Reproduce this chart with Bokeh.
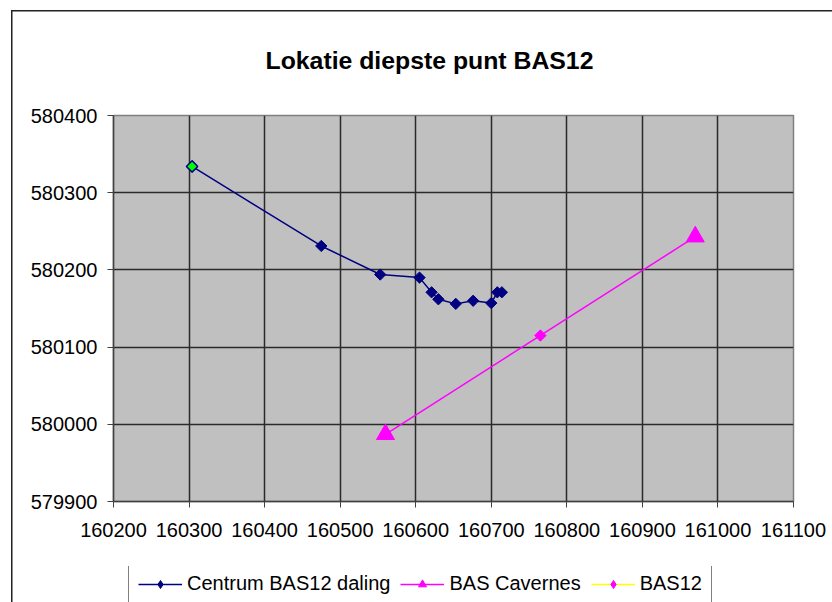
import math
from bokeh.plotting import figure
from bokeh.layouts import column
from bokeh.models import (Legend, LegendItem, SingleIntervalTicker,
                          BasicTickFormatter, Range1d, Title)
from bokeh.embed import file_html
from bokeh.resources import INLINE

# ---- data ----
centrum_x = [160304, 160475, 160553, 160605, 160621, 160630, 160653, 160676, 160700, 160708, 160714]
centrum_y = [580334, 580231, 580194, 580190, 580171, 580162, 580156, 580160, 580157, 580171, 580171]
cavernes_x = [160560, 160970]
cavernes_y = [579987, 580243]
bas12_x = [160765]
bas12_y = [580115]
x_start, x_end, x_step = 160200, 161100, 100
y_start, y_end, y_step = 579900, 580400, 100
title_text = "Lokatie diepste punt BAS12"
series_names = ["Centrum BAS12 daling", "BAS Cavernes", "BAS12"]

FONT = "Liberation Sans"
ANG = math.pi / 4
navy = "#000080"
mag = "#FF00FF"
yellow = "#FFFF00"

# ---------------- main chart ----------------
p = figure(width=832, height=566, output_backend="svg", toolbar_location=None,
           x_range=Range1d(x_start, x_end), y_range=Range1d(y_start, y_end),
           min_border_left=113, min_border_right=39, min_border_top=115,
           min_border_bottom=65)

p.background_fill_color = "#C0C0C0"
p.border_fill_alpha = 0
p.outline_line_color = "#808080"
p.outline_line_width = 1.5

t = Title(text=title_text, text_font=FONT, text_font_size="24.8px",
          text_font_style="bold", text_color="black", align="left",
          offset=152, standoff=84)
p.add_layout(t, "above")

xt = SingleIntervalTicker(interval=x_step)
yt = SingleIntervalTicker(interval=y_step)
p.xaxis.ticker = xt
p.yaxis.ticker = yt
p.xgrid.ticker = xt
p.ygrid.ticker = yt
for ax in (p.xaxis[0], p.yaxis[0]):
    ax.formatter = BasicTickFormatter(use_scientific=False)
    ax.major_label_text_font = FONT
    ax.major_label_text_font_size = "20px"
    ax.major_label_text_color = "black"
    ax.axis_line_color = "#404040"
    ax.axis_line_width = 1.5
    ax.major_tick_line_color = "#404040"
    ax.major_tick_out = 6
    ax.major_tick_in = 0
    ax.minor_tick_out = 0
    ax.minor_tick_in = 0
p.yaxis.major_label_standoff = 10
p.xaxis.major_label_standoff = 15

for g in (p.xgrid[0], p.ygrid[0]):
    g.grid_line_color = "#2a2a2a"
    g.grid_line_width = 1.5

# series 1
p.line(centrum_x, centrum_y, line_color=navy, line_width=1.5)
p.scatter(centrum_x, centrum_y, marker="square", angle=ANG, size=8,
          fill_color=navy, line_color=navy, line_width=1)
p.scatter(centrum_x[:1], centrum_y[:1], marker="square", angle=ANG, size=8,
          fill_color="#00FF00", line_color=navy, line_width=1.5)
# series 2
p.line(cavernes_x, cavernes_y, line_color=mag, line_width=1.5)
p.scatter(cavernes_x, cavernes_y, marker="triangle", size=18, fill_color=mag,
          line_color=mag)
# series 3
p.line(bas12_x, bas12_y, line_color=yellow, line_width=1.5)
p.scatter(bas12_x, bas12_y, marker="square", angle=ANG, size=8,
          fill_color=mag, line_color=mag)

# ---------------- legend strip ----------------
q = figure(width=832, height=36, output_backend="svg", toolbar_location=None,
           x_range=Range1d(0, 1), y_range=Range1d(0, 1),
           x_axis_location=None, y_axis_location=None,
           min_border_left=0, min_border_right=0, min_border_top=0, min_border_bottom=0)
q.outline_line_color = None
q.background_fill_alpha = 0
q.border_fill_alpha = 0
q.grid.visible = False

# legend sample glyphs (series values lie outside this strip's 0..1 range)
ql1 = q.line(centrum_x[:2], centrum_y[:2], line_color=navy, line_width=1.5)
qm1 = q.scatter(centrum_x[:1], centrum_y[:1], marker="diamond", size=12,
                fill_color=navy, line_color=navy)
ql2 = q.line(cavernes_x, cavernes_y, line_color=mag, line_width=1.5)
qm2 = q.scatter(cavernes_x, cavernes_y, marker="triangle", size=14,
                fill_color=mag, line_color=mag)
ql3 = q.line(bas12_x * 2, bas12_y * 2, line_color=yellow, line_width=1.5)
qm3 = q.scatter(bas12_x, bas12_y, marker="diamond", size=12,
                fill_color=mag, line_color=mag)

legend = Legend(items=[LegendItem(label=series_names[0], renderers=[ql1, qm1]),
                       LegendItem(label=series_names[1], renderers=[ql2, qm2]),
                       LegendItem(label=series_names[2], renderers=[ql3, qm3])],
                orientation="horizontal", location=(15, -3),
                label_text_font=FONT, label_text_font_size="20px",
                label_text_color="black", glyph_width=44, glyph_height=20,
                label_height=20, label_standoff=5, spacing=10, padding=9,
                margin=0, border_line_color="black", border_line_width=1,
                background_fill_color="white", background_fill_alpha=1)
q.add_layout(legend, "center")

layout = column(p, q, spacing=0)
# chart-area border (left and top edges)
layout.styles = {
    "background-color": "white",
    "background-image": "linear-gradient(#222, #222), linear-gradient(#222, #222)",
    "background-size": "1.5px 100%, 100% 1.5px",
    "background-position": "11px 10px, 11px 10px",
    "background-repeat": "no-repeat",
}
open("out.html", "w").write(file_html(layout, INLINE))
